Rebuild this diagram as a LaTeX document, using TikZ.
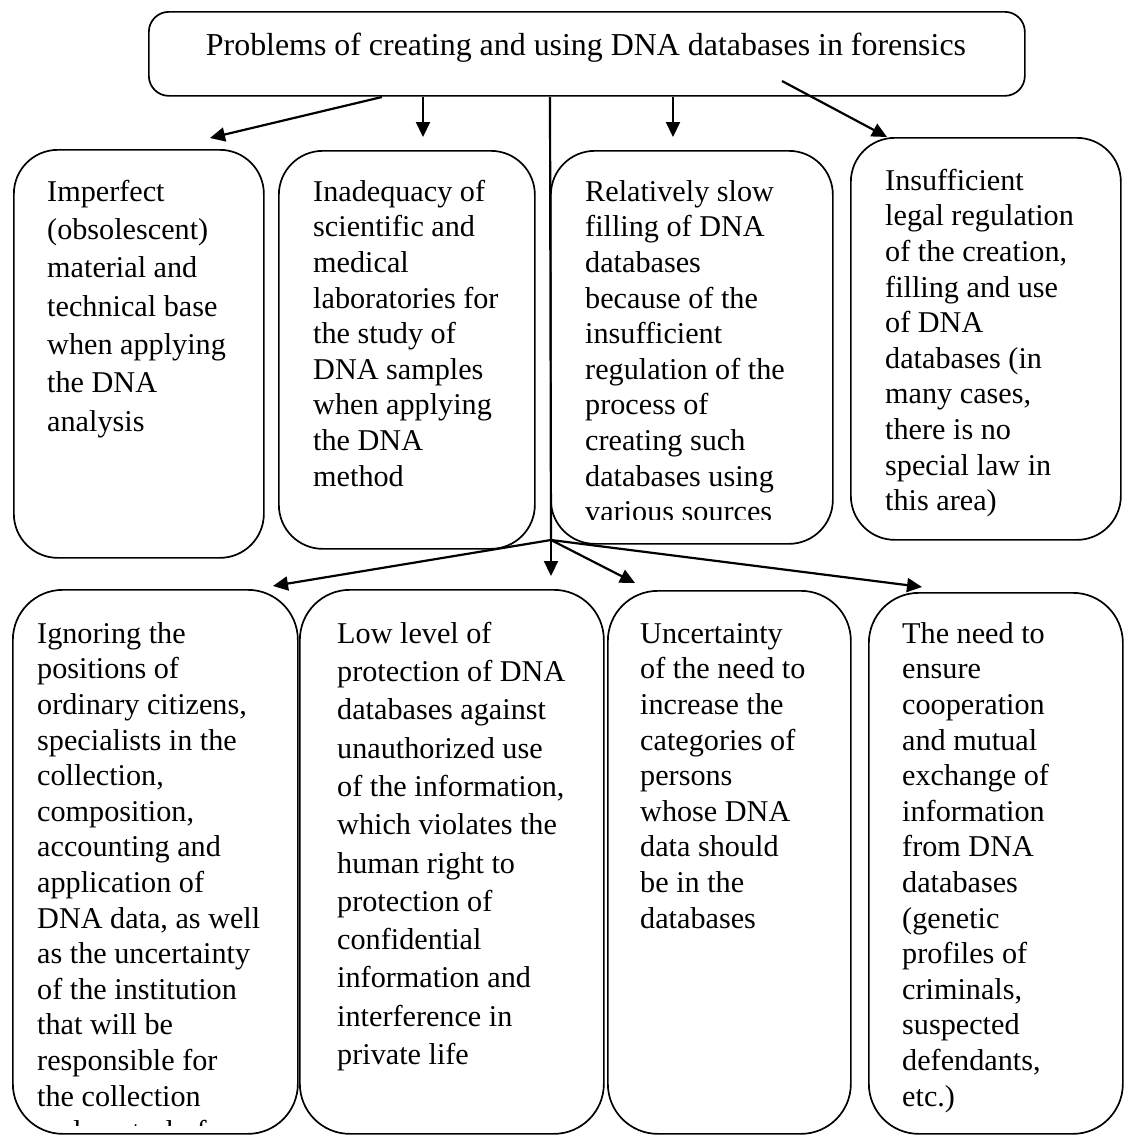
\documentclass[tikz,border=0pt]{standalone}
\usepackage{fontspec}
\setmainfont{Liberation Serif}
\usetikzlibrary{arrows.meta}
\begin{document}
\begin{tikzpicture}[x=1pt,y=-1pt,
  box/.style={draw, line width=1.7pt, inner sep=0pt, anchor=north west},
  rowone/.style={box, rounded corners=44pt},
  rowtwo/.style={box, rounded corners=50pt},
  txt/.style={inner sep=0pt, anchor=north west, align=left, font=\fontsize{30.2}{35.6}\selectfont},
  wtxt/.style={txt, font=\fontsize{30.2}{38.3}\selectfont},
  arr/.style={line width=2.2pt, -{Triangle[length=15pt,width=14pt]}}
]
\useasboundingbox (0,0) rectangle (1125,1136);
% top box
\node[box, rounded corners=20pt, minimum width=876pt, minimum height=84pt] (T) at (148,11) {};
\node[anchor=base, inner sep=0pt, font=\fontsize{31.9}{38}\selectfont] (Tt) at (586,55) {Problems of creating and using DNA databases in forensics};
% row one
\node[rowone, minimum width=250pt, minimum height=408pt] (A) at (13,149) {};
\node[rowone, minimum width=256pt, minimum height=398pt] (B) at (278,150) {};
\node[rowone, minimum width=282pt, minimum height=393pt] (C) at (550,150) {};
\node[rowone, minimum width=270pt, minimum height=402pt] (D) at (850,137) {};
% row two
\node[rowtwo, minimum width=285pt, minimum height=544pt] (E) at (12,589) {};
\node[rowtwo, minimum width=304pt, minimum height=544pt] (F) at (299,589) {};
\node[rowtwo, minimum width=243pt, minimum height=543pt] (G) at (607,590) {};
\node[rowtwo, minimum width=254pt, minimum height=541pt] (H) at (868,592) {};
% texts row one
\node[wtxt] (At) at (47,201-26.81) {\strut Imperfect\\(obsolescent)\\material and\\technical base\\when applying\\the DNA\\analysis};
\node[txt] (Bt) at (313,201-24.92) {\strut Inadequacy of\\scientific and\\medical\\laboratories for\\the study of\\DNA samples\\when applying\\the DNA\\method};
\begin{scope}
\clip (550,150) rectangle (832,519);
\node[txt] (Ct) at (585,201-24.92) {\strut Relatively slow\\filling of DNA\\databases\\because of the\\insufficient\\regulation of the\\process of\\creating such\\databases using\\various sources};
\end{scope}
\node[txt] (Dt) at (885,190-24.92) {\strut Insufficient\\legal regulation\\of the creation,\\filling and use\\of DNA\\databases (in\\many cases,\\there is no\\special law in\\this area)};
% texts row two
\begin{scope}
\clip (12,589) rectangle (297,1125);
\node[txt] (Et) at (37,643-24.92) {\strut Ignoring the\\positions of\\ordinary citizens,\\specialists in the\\collection,\\composition,\\accounting and\\application of\\DNA data, as well\\as the uncertainty\\of the institution\\that will be\\responsible for\\the collection\\and control of};
\end{scope}
\node[wtxt] (Ft) at (337,643-26.81) {\strut Low level of\\protection of DNA\\databases against\\unauthorized use\\of the information,\\which violates the\\human right to\\protection of\\confidential\\information and\\interference in\\private life};
\node[txt] (Gt) at (640,643-24.92) {\strut Uncertainty\\of the need to\\increase the\\categories of\\persons\\whose DNA\\data should\\be in the\\databases};
\node[txt] (Ht) at (902,643-24.92) {\strut The need to\\ensure\\cooperation\\and mutual\\exchange of\\information\\from DNA\\databases\\(genetic\\profiles of\\criminals,\\suspected\\defendants,\\etc.)};
% connector points
\coordinate (s1) at (382,97);
\coordinate (e1) at (210,138);
\coordinate (s2) at (423,97);
\coordinate (e2) at (423,137);
\coordinate (s3) at (550,97);
\coordinate (J) at (551,540);
\coordinate (s4) at (673,97);
\coordinate (e4) at (673,137);
\coordinate (s5) at (782,81);
\coordinate (e5) at (887,137);
\coordinate (f1) at (273,586);
\coordinate (f2) at (551,576);
\coordinate (f3) at (635,583);
\coordinate (f4) at (922,587);
\draw[arr] (s1) -- (e1);
\draw[arr] (s2) -- (e2);
\draw[line width=2.2pt] (s3) -- (J);
\draw[arr] (s4) -- (e4);
\draw[arr] (s5) -- (e5);
\draw[arr] (J) -- (f1);
\draw[arr] (J) -- (f2);
\draw[arr] (J) -- (f3);
\draw[arr] (J) -- (f4);
\end{tikzpicture}
\end{document}
